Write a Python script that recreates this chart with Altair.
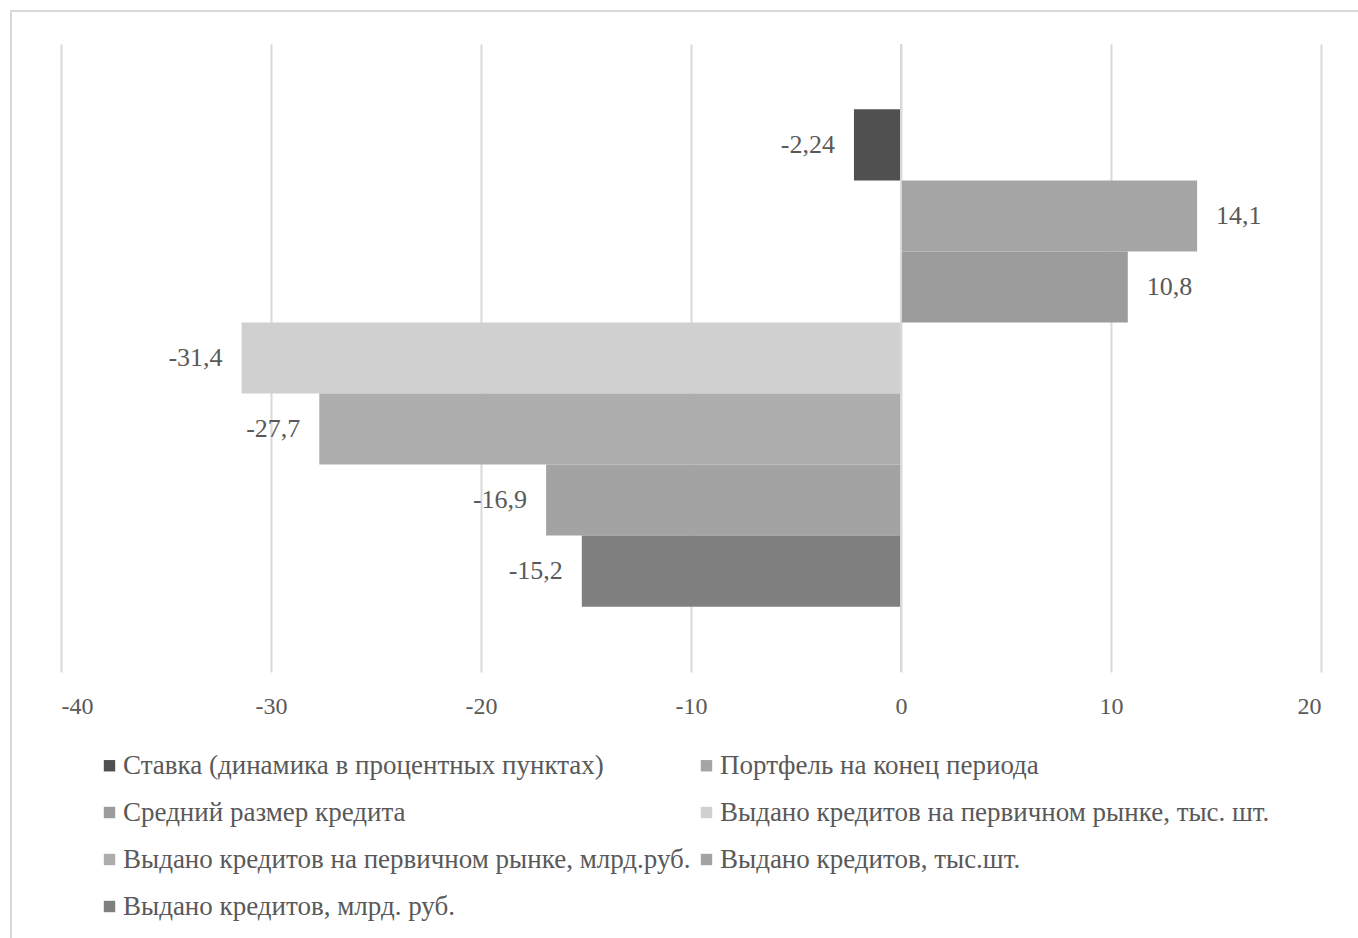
import altair as alt
import pandas as pd

series = [
    "Ставка (динамика в процентных пунктах)",
    "Портфель на конец периода",
    "Средний размер кредита",
    "Выдано кредитов на первичном рынке, тыс. шт.",
    "Выдано кредитов на первичном рынке, млрд.руб.",
    "Выдано кредитов, тыс.шт.",
    "Выдано кредитов, млрд. руб.",
]
values = [-2.24, 14.1, 10.8, -31.4, -27.7, -16.9, -15.2]
colors = ["#505050", "#a5a5a5", "#9c9c9c", "#d0d0d0", "#adadad", "#a3a3a3", "#7f7f7f"]
ticks = [-40, -30, -20, -10, 0, 10, 20]

# legend is filled column by column (4 rows x 2 columns): reorder so it reads row by row
legend_idx = [0, 2, 4, 6, 1, 3, 5]
legend_domain = [series[i] for i in legend_idx]
legend_range = [colors[i] for i in legend_idx]

df = pd.DataFrame({"series": series, "value": values})

FONT = "Liberation Serif"
TXT = "#595959"
GRID = "#d9d9d9"

yenc = alt.Y("series:N", sort=series,
             scale=alt.Scale(paddingInner=0, paddingOuter=0.92), axis=None)
xscale = alt.Scale(domain=[-40, 20], nice=False, zero=False)

bars = alt.Chart(df).mark_bar().encode(
    y=yenc,
    x=alt.X("value:Q", scale=xscale,
            axis=alt.Axis(values=ticks, grid=True, gridColor=GRID, gridWidth=2,
                          domain=False, ticks=False,
                          labelExpr="toString(datum.value)",
                          labelFont=FONT, labelFontSize=24, labelColor=TXT,
                          labelPadding=22, title=None)),
    color=alt.Color("series:N", sort=legend_domain,
                    scale=alt.Scale(domain=legend_domain, range=legend_range),
                    legend=alt.Legend(orient="none", legendX=35, legendY=708,
                                      columns=2, title=None, symbolType="square",
                                      symbolSize=130, symbolStrokeWidth=0,
                                      labelFont=FONT, labelFontSize=27,
                                      labelColor=TXT, labelLimit=0,
                                      labelOffset=0, rowPadding=19,
                                      columnPadding=2, padding=0)),
)

label_expr = "replace(toString(datum.value), '.', ',')"

pos_labels = alt.Chart(df).transform_filter("datum.value >= 0").transform_calculate(
    lab=label_expr
).mark_text(align="left", baseline="middle", dx=19, font=FONT, fontSize=26, color=TXT).encode(
    y=yenc, x=alt.X("value:Q", scale=xscale), text="lab:N"
)

neg_labels = alt.Chart(df).transform_filter("datum.value < 0").transform_calculate(
    lab=label_expr
).mark_text(align="right", baseline="middle", dx=-19, font=FONT, fontSize=26, color=TXT).encode(
    y=yenc, x=alt.X("value:Q", scale=xscale), text="lab:N"
)

zero = alt.Chart(pd.DataFrame({"z": [0]})).mark_rule(color=GRID, strokeWidth=2).encode(
    x=alt.X("z:Q", scale=xscale)
)

border = alt.Chart(pd.DataFrame({"a": [0]})).mark_rect(
    fill="white", fillOpacity=0, stroke=GRID, strokeWidth=2
).encode(x=alt.value(-50), x2=alt.value(1400), y=alt.value(-33), y2=alt.value(1000))

chart = alt.layer(border, bars, zero, pos_labels, neg_labels).properties(
    width=1260, height=628,
    autosize=alt.AutoSizeParams(type="none"),
    padding={"left": 61, "top": 44, "right": 37, "bottom": 266},
    background="white",
).configure_view(stroke=None)

chart.save("out.html", embed_options={"renderer": "svg", "actions": False})
